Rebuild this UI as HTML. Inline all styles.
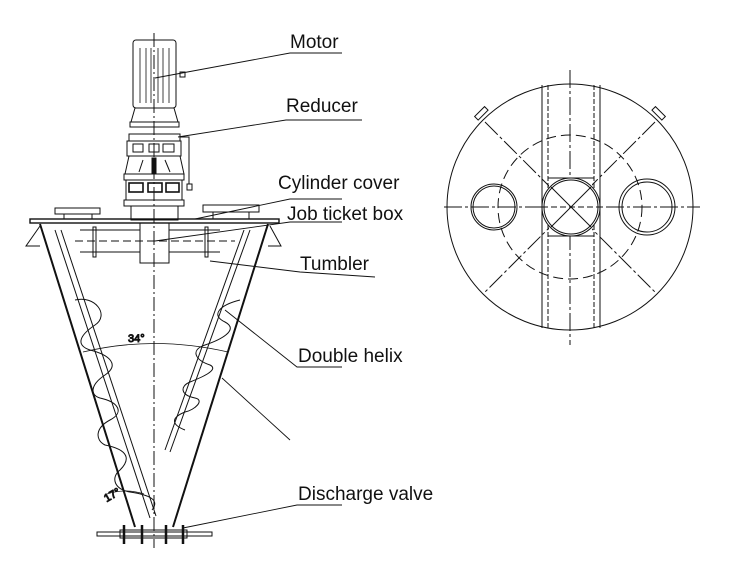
<!DOCTYPE html>
<html><head><style>body{margin:0;background:#fff}svg{display:block}text{font-family:"Liberation Sans",sans-serif;font-size:19px;fill:#111}</style></head><body>
<svg width="729" height="564" viewBox="0 0 729 564" stroke="#111" fill="none" stroke-width="1">
<line x1="154" y1="33" x2="154" y2="548" stroke-dasharray="14,3,2,3"/>
<rect x="133" y="40" width="43" height="68" rx="3"/>
<g stroke-width="0.8"><line x1="140" y1="48" x2="140" y2="103"/><line x1="146" y1="48" x2="146" y2="103"/><line x1="151" y1="48" x2="151" y2="103"/><line x1="158" y1="48" x2="158" y2="103"/><line x1="163" y1="48" x2="163" y2="103"/><line x1="169" y1="48" x2="169" y2="103"/></g>
<rect x="180" y="72" width="5" height="5"/>
<path d="M135 108 L131 122 L178 122 L174 108 Z"/><rect x="130" y="122" width="49" height="5"/>
<rect x="129" y="134" width="51" height="7"/><rect x="127" y="141" width="54" height="15"/>
<rect x="133" y="144" width="10" height="8"/><rect x="149" y="144" width="10" height="8"/><rect x="163" y="144" width="11" height="8"/>
<path d="M129 156 L125 174 L184 174 L180 156 Z"/>
<line x1="143" y1="160" x2="139" y2="172"/><line x1="165" y1="160" x2="170" y2="172"/><rect x="152" y="158" width="4" height="15" fill="#111"/>
<rect x="124" y="174" width="60" height="6"/><rect x="126" y="180" width="56" height="20"/>
<rect x="129" y="183" width="14" height="9" stroke-width="1.6"/><rect x="148" y="183" width="14" height="9" stroke-width="1.6"/><rect x="166" y="183" width="13" height="9" stroke-width="1.6"/>
<rect x="124" y="200" width="60" height="6"/>
<path d="M180 137 H189 V184"/><rect x="187" y="184" width="5" height="6"/>
<rect x="131" y="206" width="47" height="14"/>
<rect x="30" y="219" width="249" height="4" stroke-width="1.4"/>
<rect x="55" y="208" width="45" height="6"/><line x1="64" y1="214" x2="64" y2="219"/><line x1="92" y1="214" x2="92" y2="219"/>
<rect x="203" y="205" width="56" height="7"/><line x1="213" y1="212" x2="213" y2="219"/><line x1="249" y1="212" x2="249" y2="219"/>
<rect x="140" y="223" width="29" height="40"/>
<line x1="80" y1="230" x2="140" y2="230"/><line x1="80" y1="252" x2="140" y2="252"/>
<line x1="169" y1="230" x2="220" y2="230"/><line x1="169" y1="252" x2="220" y2="252"/>
<rect x="93" y="227" width="3" height="30"/><rect x="205" y="227" width="3" height="30"/>
<line x1="75" y1="241" x2="235" y2="241" stroke-dasharray="8,4"/>
<path d="M40 226 L26 246 L40 246"/><path d="M270 226 L281 246 L268 246"/>
<line x1="40" y1="224" x2="135" y2="527" stroke-width="2"/>
<line x1="268" y1="224" x2="173" y2="527" stroke-width="2"/>
<g stroke-width="1">
<line x1="55" y1="230" x2="150" y2="518"/><line x1="61" y1="230" x2="156" y2="516"/>
<line x1="250" y1="230" x2="170" y2="452"/><line x1="244" y1="230" x2="165" y2="450"/>
<path d="M75 300 C95 295 110 315 95 325 C80 335 75 345 90 350 C110 355 120 365 105 375 C90 385 90 395 100 398 C118 402 125 412 110 420 C95 428 95 440 105 445 C130 450 130 460 120 470 C110 478 115 490 130 492 C150 495 160 500 152 510"/>
<path d="M240 300 C220 305 210 315 225 322 C240 330 220 340 205 345 C190 350 195 360 210 365 C220 370 200 378 190 382 C180 386 180 395 195 398 C205 400 195 410 185 412 C170 418 172 425 185 430"/>
<path d="M83 352 Q154 335 228 352" stroke-width="0.8"/>
<path d="M107 494 Q125 488 144 494" stroke-width="0.8"/>
</g>
<text x="128" y="342" style="font-size:11px">34°</text>
<text x="105" y="500" style="font-size:11px" transform="rotate(-30 110 498)">17°</text>
<rect x="97" y="532" width="115" height="4"/><rect x="120" y="530" width="67" height="8"/>
<g stroke-width="2.5"><line x1="124" y1="525" x2="124" y2="544"/><line x1="142" y1="525" x2="142" y2="544"/><line x1="166" y1="525" x2="166" y2="544"/><line x1="183" y1="525" x2="183" y2="544"/></g>
<g stroke-width="0.9">
<path d="M155 78 L290 53 H342"/>
<path d="M178 137 L286 120 H362"/>
<path d="M195 219 L290 199 H342"/>
<path d="M155 241 L290 222 H342"/>
<path d="M210 261 L300 272 L375 277"/>
<path d="M225 310 L297 367 H342"/>
<path d="M222 378 L290 440"/>
<path d="M183 528 L297 505 H342"/>
</g>
<g stroke="none">
<text x="290" y="48">Motor</text>
<text x="286" y="112">Reducer</text>
<text x="278" y="189">Cylinder cover</text>
<text x="287" y="220">Job ticket box</text>
<text x="300" y="270">Tumbler</text>
<text x="298" y="362">Double helix</text>
<text x="298" y="500">Discharge valve</text>
</g>
<circle cx="570" cy="207" r="123"/>
<circle cx="570" cy="207" r="72" stroke-dasharray="10,5"/>
<line x1="444" y1="207" x2="700" y2="207" stroke-dasharray="18,3,3,3"/>
<line x1="570" y1="70" x2="570" y2="345" stroke-dasharray="18,3,3,3"/>
<line x1="485" y1="122" x2="655" y2="292" stroke-dasharray="18,3,3,3"/>
<line x1="655" y1="122" x2="485" y2="292" stroke-dasharray="18,3,3,3"/>
<line x1="542" y1="85" x2="542" y2="328"/><line x1="600" y1="85" x2="600" y2="328"/>
<line x1="548" y1="85" x2="548" y2="328" stroke-dasharray="5,2"/><line x1="594" y1="85" x2="594" y2="328" stroke-dasharray="5,2"/>
<rect x="549" y="179" width="43" height="56" fill="#fff" stroke="none"/>
<line x1="548" y1="178" x2="594" y2="178"/><line x1="548" y1="236" x2="594" y2="236"/>
<circle cx="571" cy="207" r="29" fill="#fff"/><circle cx="571" cy="207" r="27"/>
<line x1="551" y1="187" x2="591" y2="227"/><line x1="591" y1="187" x2="551" y2="227"/>
<line x1="542" y1="207" x2="600" y2="207" stroke-dasharray="6,3"/>
<circle cx="494" cy="207" r="23"/><circle cx="494" cy="207" r="21"/>
<circle cx="647" cy="207" r="28"/><circle cx="647" cy="207" r="25"/>
<rect x="474" y="111" width="14" height="5" transform="rotate(-45 481 113)"/>
<rect x="652" y="111" width="14" height="5" transform="rotate(45 659 113)"/>
</svg>
</body></html>
